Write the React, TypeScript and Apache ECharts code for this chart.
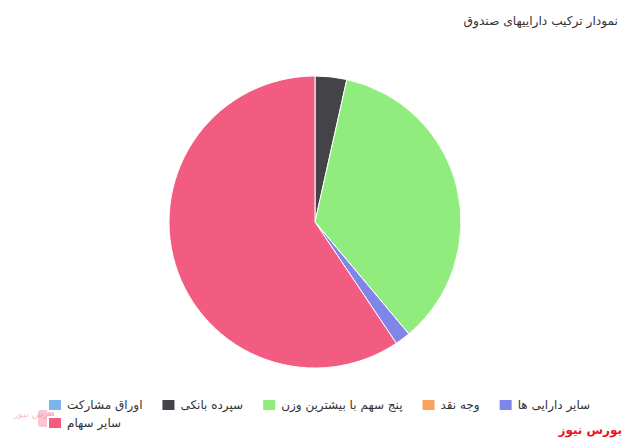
import React, { useEffect, useRef } from "react";
import * as echarts from "echarts";

const categories = [
  "اوراق مشارکت",
  "سپرده بانکی",
  "پنج سهم با بیشترین وزن",
  "وجه نقد",
  "سایر دارایی ها",
  "سایر سهام",
];
const values = [0, 3.5, 35.4, 0, 1.7, 59.4];
const colors = ["#7cb5ec", "#434348", "#90ed7d", "#f7a35c", "#8085e9", "#f15c80"];
const titleText = "نمودار ترکیب داراییهای صندوق";
const brandText = "بورس نیوز";

const FONT = 'Tahoma, "DejaVu Sans", sans-serif';

const legendBase = {
  left: 47,
  padding: 0,
  itemWidth: 14,
  itemHeight: 12,
  itemGap: 18,
  icon: "rect",
  textStyle: { fontSize: 12, color: "#333333", fontFamily: FONT },
};

export default function App() {
  const ref = useRef<HTMLDivElement>(null);
  useEffect(() => {
    if (!ref.current) return;
    const chart = echarts.init(ref.current, null, { renderer: "svg" });
    chart.setOption({
      animation: false,
      color: colors,
      textStyle: { fontFamily: FONT },
      title: {
        text: titleText,
        right: 3,
        top: 10,
        textStyle: { fontSize: 12.2, fontWeight: "normal", color: "#333333", fontFamily: FONT },
      },
      legend: [
        { ...legendBase, data: categories.slice(0, 5), top: 398 },
        { ...legendBase, data: categories.slice(5), top: 416 },
      ],
      graphic: [
        {
          type: "rect",
          left: 38,
          top: 410,
          shape: { width: 16, height: 17, r: 3 },
          style: { fill: "rgba(241,92,128,0.35)" },
          z: -1,
        },
        {
          type: "text",
          left: 14,
          top: 409,
          style: {
            text: "بورس نیوز",
            fill: "rgba(241,92,128,0.45)",
            font: `italic 9px ${FONT}`,
          },
        },
        {
          type: "text",
          right: 4,
          top: 424,
          style: {
            text: brandText,
            fill: "#e8141c",
            font: `bold 12px ${FONT}`,
          },
        },
      ],
      series: [
        {
          type: "pie",
          center: [315, 222],
          radius: [0, 146],
          startAngle: 90,
          clockwise: true,
          label: { show: false },
          labelLine: { show: false },
          emphasis: { disabled: true },
          itemStyle: { borderColor: "#ffffff", borderWidth: 1 },
          data: categories.map((name, i) => ({ name, value: values[i] })),
        },
      ],
    });
    return () => chart.dispose();
  }, []);
  return (
    <div
      ref={ref}
      style={{ position: "fixed", left: 0, top: 0, width: 626, height: 445, background: "#ffffff" }}
    />
  );
}
